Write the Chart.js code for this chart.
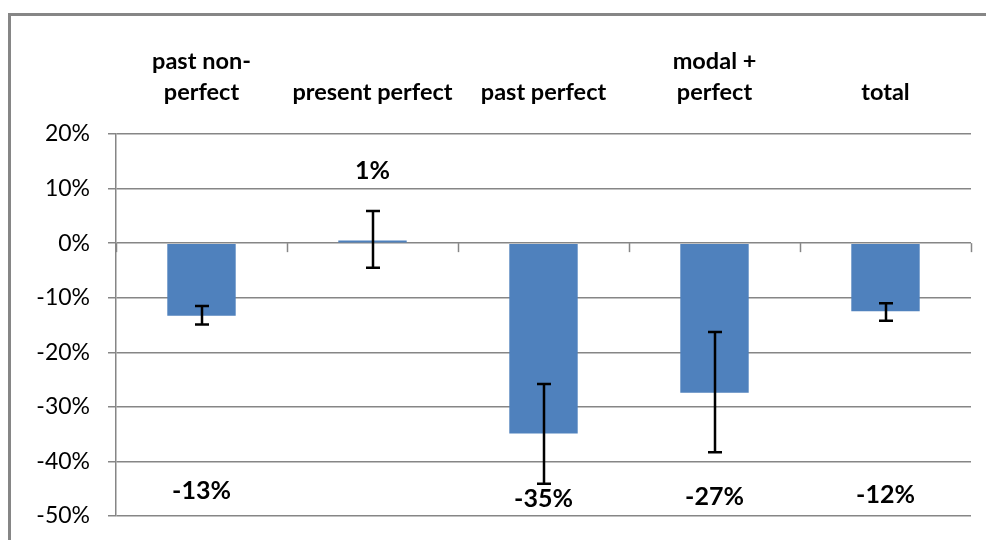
<!DOCTYPE html>
<meta charset="UTF-8">
<title>Perfect forms</title>
<script src="https://cdn.jsdelivr.net/npm/chart.js"></script>
<style>
  html, body { margin: 0; padding: 0; background: #fff; }
  #wrap { width: 986px; height: 540px; }
</style>
<script>
var categories = [['past non-', 'perfect'], 'present perfect', 'past perfect', ['modal +', 'perfect'], 'total'];
var values = [-13.3, 0.5, -34.9, -27.4, -12.5];
var errHigh = [-11.5, 5.9, -25.8, -16.3, -11.0];
var errLow = [-14.9, -4.5, -44.1, -38.3, -14.2];
var valueLabels = ['-13%', '1%', '-35%', '-27%', '-12%'];
var labelAt = [-45.4, 13.2, -46.8, -46.5, -46.1];
var yTicks = [20, 10, 0, -10, -20, -30, -40, -50];

var gray = '#868686';
var fontFam = 'Lato, "Open Sans", sans-serif';

// excel-style frame, tick marks on the zero line, error bars and value labels
var extras = {
    id: 'extras',
    beforeDraw: function(chart){
        var ctx = chart.ctx;
        ctx.save();
        ctx.strokeStyle = gray;
        ctx.lineWidth = 3;
        ctx.strokeRect(9.5, 14.5, 1000, 600);
        ctx.restore();
    },
    afterDatasetsDraw: function(chart){
        var ctx = chart.ctx;
        var x = chart.scales.x, y = chart.scales.y;
        var meta = chart.getDatasetMeta(0);
        var zero = y.getPixelForValue(0);
        ctx.save();
        ctx.strokeStyle = gray;
        ctx.lineWidth = 1.5;
        for (var i = 0; i <= categories.length; i++) {
            var px = Math.round(x.getPixelForValue(i - 0.5)) + 0.5;
            ctx.beginPath();
            ctx.moveTo(px, zero);
            ctx.lineTo(px, zero + 9);
            ctx.stroke();
        }
        ctx.strokeStyle = '#000';
        ctx.lineWidth = 2.5;
        meta.data.forEach(function(bar, i){
            var bx = Math.round(bar.x);
            var hi = y.getPixelForValue(errHigh[i]);
            var lo = y.getPixelForValue(errLow[i]);
            ctx.beginPath();
            ctx.moveTo(bx, hi); ctx.lineTo(bx, lo);
            ctx.moveTo(bx - 7, hi); ctx.lineTo(bx + 7, hi);
            ctx.moveTo(bx - 7, lo); ctx.lineTo(bx + 7, lo);
            ctx.stroke();
        });
        ctx.fillStyle = '#000';
        ctx.font = 'bold 25px ' + fontFam;
        ctx.textAlign = 'center';
        ctx.textBaseline = 'middle';
        meta.data.forEach(function(bar, i){
            ctx.fillText(valueLabels[i], bar.x, y.getPixelForValue(labelAt[i]));
        });
        ctx.restore();
    }
};

function drawChart(){
    var ctx = document.getElementById('chart').getContext('2d');
    new Chart(ctx, {
        type: 'bar',
        data: {
            labels: categories,
            datasets: [{
                data: values,
                backgroundColor: '#4F81BD',
                borderWidth: 0,
                barPercentage: 0.4,
                categoryPercentage: 1
            }]
        },
        options: {
            responsive: false,
            animation: false,
            layout: { padding: { top: 0, right: 15, bottom: 24, left: 0 } },
            plugins: { legend: { display: false }, tooltip: { enabled: false } },
            scales: {
                x: {
                    position: 'top',
                    grid: { display: false },
                    border: { display: false },
                    ticks: {
                        color: '#000',
                        padding: 19,
                        maxRotation: 0,
                        autoSkip: false,
                        font: { family: fontFam, size: 23.5, weight: 'bold', lineHeight: 1.28 }
                    },
                    afterFit: function(s){ s.height = 134; }
                },
                y: {
                    min: -50,
                    max: 20,
                    afterBuildTicks: function(s){
                        s.ticks = yTicks.map(function(v){ return { value: v }; });
                    },
                    grid: { color: gray, lineWidth: 1.5, tickLength: 8 },
                    border: { color: gray, width: 1.5 },
                    ticks: {
                        color: '#000',
                        padding: 18,
                        font: { family: fontFam, size: 23 },
                        callback: function(v){ return v + '%'; }
                    },
                    afterFit: function(s){
                        s.width = 116;
                        s.paddingTop = 0;
                        s.paddingBottom = 0;
                    }
                }
            }
        },
        plugins: [extras]
    });
}
</script>
<html>
  <body>
    <div id="wrap"><canvas id="chart" width="986" height="540"></canvas></div>
    <script>drawChart();</script>
  </body>
</html>
